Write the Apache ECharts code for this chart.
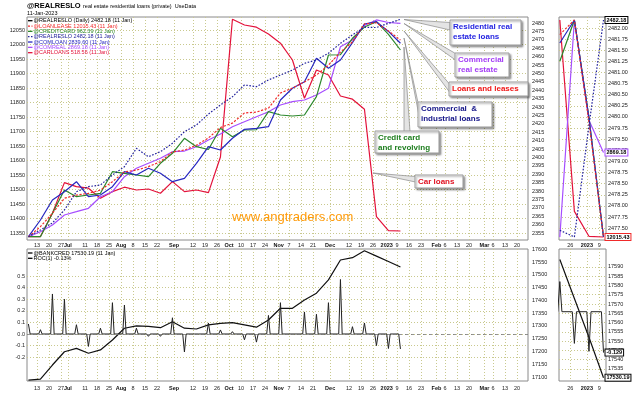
<!DOCTYPE html>
<html><head><meta charset="utf-8">
<script src="https://cdn.jsdelivr.net/npm/echarts@6/dist/echarts.min.js"></script>
<style>html,body{margin:0;padding:0;background:#fff}#c{width:640px;height:393px}</style>
</head><body><div id="c"></div>
<script>
// ---------------- data ----------------
const weekDates = ['2022-06-08','2022-06-15','2022-06-22','2022-06-29','2022-07-06','2022-07-13','2022-07-20','2022-07-27','2022-08-03','2022-08-10','2022-08-17','2022-08-24','2022-08-31','2022-09-07','2022-09-14','2022-09-21','2022-09-28','2022-10-05','2022-10-12','2022-10-19','2022-10-26','2022-11-02','2022-11-09','2022-11-16','2022-11-23','2022-11-30','2022-12-07','2022-12-14','2022-12-21','2022-12-28','2023-01-04','2023-01-11'];
const loanLease = [11337,11372,11418,11470,11481,11487,11498,11527,11561,11567,11579,11596,11630,11636,11653,11678,11714,11729,11764,11767,11781,11833,11850,11871,11895,11929,11974,12009,12071,12075,12047,12015.43];
const creditCard = [887.71,887.71,897.07,906.39,903.71,904.39,905.07,913.71,913.07,912.39,911.71,917.07,921.07,927.07,923.71,922.59,931.07,927.71,930.39,930.5,937.71,936.39,935.99,936.39,943.71,960.39,960.5,967.07,971.56,973.71,968.62,962.39];
const realResLo = [2352.8,2356.8,2361.0,2368.7,2379.6,2382.6,2383.6,2389.5,2394.5,2405.4,2400.4,2403.4,2408.4,2415.3,2419.3,2425.8,2431.2,2436.1,2443.1,2442.1,2446.1,2449.0,2452.0,2456.0,2458.0,2462.0,2467.9,2472.9,2477.45,2477.3,2479.8,2482.18];
const comLoan = [2684.88,2698.24,2714.24,2720.88,2728.88,2716.88,2718.24,2724.88,2736.88,2734.24,2739.60,2735.60,2728.88,2731.60,2743.60,2756.88,2754.24,2763.60,2770.80,2771.60,2772.88,2794.24,2803.60,2808.88,2827.60,2819.60,2826.24,2840.1,2855.05,2856.88,2849.10,2839.60];
const comReal = [2762.48,2764.98,2768.33,2773.33,2774.98,2776.68,2782.48,2784.98,2792.48,2796.68,2799.18,2801.68,2804.98,2805.3,2807.48,2810.83,2813.83,2817.48,2819.98,2822.48,2824.98,2828.33,2829.98,2830.83,2833.33,2836.68,2857.48,2860.83,2868.11,2870.86,2869.59,2869.18];
const carLoans = [518.28,518.28,519.45,520.98,520.78,520.70,520.20,520.53,520.75,520.61,520.66,520.45,521.03,520.53,520.61,520.48,522.26,529.15,528.86,528.75,528.41,527.95,527.11,525.20,526.61,526.36,525.31,525.15,524.65,519.28,518.58,518.56];
const bankCred = [17088,17092,17147,17199,17212,17193,17206,17245,17291,17300,17298,17293,17316,17291,17288,17304,17310,17313,17304,17295,17323,17369,17369,17401,17428,17480,17558,17567,17594,17573,17552,17530.19];

const rocDates = ['2022-06-08','2022-06-09','2022-06-14','2022-06-15','2022-06-16','2022-06-21','2022-06-22','2022-06-23','2022-06-28','2022-06-29','2022-06-30','2022-07-05','2022-07-06','2022-07-07','2022-07-12','2022-07-13','2022-07-14','2022-07-19','2022-07-20','2022-07-21','2022-07-26','2022-07-27','2022-07-28','2022-08-02','2022-08-03','2022-08-04','2022-08-09','2022-08-10','2022-08-11','2022-08-16','2022-08-17','2022-08-18','2022-08-23','2022-08-24','2022-08-25','2022-08-30','2022-08-31','2022-09-01','2022-09-06','2022-09-07','2022-09-08','2022-09-13','2022-09-14','2022-09-15','2022-09-20','2022-09-21','2022-09-22','2022-09-27','2022-09-28','2022-09-29','2022-10-04','2022-10-05','2022-10-06','2022-10-11','2022-10-12','2022-10-13','2022-10-18','2022-10-19','2022-10-20','2022-10-25','2022-10-26','2022-10-27','2022-11-01','2022-11-02','2022-11-03','2022-11-15','2022-11-16','2022-11-17','2022-11-22','2022-11-23','2022-11-24','2022-11-29','2022-11-30','2022-12-01','2022-12-06','2022-12-07','2022-12-08','2022-12-13','2022-12-14','2022-12-15','2022-12-20','2022-12-21','2022-12-22','2022-12-27','2022-12-28','2022-12-29','2023-01-03','2023-01-04','2023-01-05','2023-01-10','2023-01-11'];
const rocValues = [0.086,0, 0,0.037,0, 0,0.345,0, 0,0.30,0, 0,0.08,0, 0,-0.107,0, 0,0.05,0, 0,0.27,0, 0,0.25,0, 0,0.05,0, 0,-0.02,0, 0,-0.02,0, 0,0.14,0, 0,-0.155,0, 0,-0.015,0, 0,0.095,0, 0,0.035,0, 0,0.02,0, 0,-0.05,0, 0,-0.07,0, 0,0.16,0, 0,0.27,0, 0,0.19,0, 0,0.17,0, 0,0.27,0, 0,0.47,0, 0,0.063,0, 0,0.095,0, 0,-0.10,0, 0,-0.125,0, 0,-0.129];

const tickDates = ['2022-06-13','2022-06-20','2022-06-27','2022-07-01','2022-07-11','2022-07-18','2022-07-25','2022-08-01','2022-08-08','2022-08-15','2022-08-22','2022-09-01','2022-09-12','2022-09-19','2022-09-26','2022-10-03','2022-10-10','2022-10-17','2022-10-24','2022-11-01','2022-11-07','2022-11-14','2022-11-21','2022-12-01','2022-12-12','2022-12-19','2022-12-26','2023-01-03','2023-01-09','2023-01-16','2023-01-23','2023-02-01','2023-02-06','2023-02-13','2023-02-20','2023-03-01','2023-03-06','2023-03-13','2023-03-20'];
const tickLabels = ['13','20','27','Jul','11','18','25','Aug','8','15','22','Sep','12','19','26','Oct','10','17','24','Nov','7','14','21','Dec','12','19','26','2023','9','16','23','Feb','6','13','20','Mar','6','13','20'];
const zoomTickDates = ['2022-12-26','2023-01-03','2023-01-09'];
const zoomTickLabels = ['26','2023','9'];
const monthLabels = ['Jul','Aug','Sep','Oct','Nov','Dec','2023','Feb','Mar'];

const leftTicks = [11350,11400,11450,11500,11550,11600,11650,11700,11750,11800,11850,11900,11950,12000,12050];
const rightTicks = [2355,2360,2365,2370,2375,2380,2385,2390,2395,2400,2405,2410,2415,2420,2425,2430,2435,2440,2445,2450,2455,2460,2465,2470,2475,2480];
const zoomRightTicks = [2477.5,2477.75,2478,2478.25,2478.5,2478.75,2479,2479.25,2479.5,2479.75,2480,2480.25,2480.5,2480.75,2481,2481.25,2481.5,2481.75,2482];
const rocTicks = [-0.2,-0.1,0,0.1,0.2,0.3,0.4,0.5];
const bankTicks = [17100,17150,17200,17250,17300,17350,17400,17450,17500,17550,17600];
const zoomBankTicks = [17535,17540,17545,17550,17555,17560,17565,17570,17575,17580,17585,17590];

// ---------------- helpers ----------------
const F = 'Liberation Sans';
const base = Date.parse('2022-06-13T00:00:00Z');
const dayNum = s => (Date.parse(s + 'T00:00:00Z') - base) / 864e5;
const days = weekDates.map(dayNum);
const pair = arr => arr.map((v, i) => [days[i], v]);
const last4 = arr => pair(arr).slice(-4);
const rocData = rocDates.map((d, i) => [dayNum(d), rocValues[i]]);
const rocRecent = rocData.filter(p => p[0] >= dayNum('2022-12-20'));
const labelMap = {};
tickDates.forEach((d, i) => labelMap[dayNum(d)] = tickLabels[i]);
const zoomLabelMap = {};
zoomTickDates.forEach((d, i) => zoomLabelMap[dayNum(d)] = zoomTickLabels[i]);

const cLoan = '#f02a2a', cCredit = '#2b872b', cReal = '#22229c', cCom = '#2727c0', cComReal = '#a64dff', cCar = '#e3123a';
const gridLine = {show: true, lineStyle: {color: '#c9c98e', type: [1, 2], width: 1}};
const lbl = {fontFamily: F, fontSize: 5.5, color: '#222'};
const richB = {b: {fontFamily: F, fontSize: 5.5, fontWeight: 'bold', color: '#111'}};

function xAx(gi, min, max, ticks, map, margin) {
  return {type: 'value', gridIndex: gi, min, max,
    axisLine: {show: false}, axisTick: {show: true, length: 0, customValues: ticks},
    axisLabel: Object.assign({}, lbl, {margin, customValues: ticks, rich: richB,
      formatter: v => { const t = map[Math.round(v)]; if (t === undefined) return ''; return monthLabels.includes(t) ? '{b|' + t + '}' : t; }}),
    splitLine: gridLine};
}
function yAx(gi, pos, min, max, ticks, fmt, split, margin) {
  return {type: 'value', gridIndex: gi, position: pos, min, max,
    axisLine: {show: false}, axisTick: {show: true, length: 0, customValues: ticks},
    axisLabel: Object.assign({}, lbl, {margin, customValues: ticks, formatter: fmt}),
    splitLine: split ? gridLine : {show: false}};
}
const hid = (gi, min, max) => ({type: 'value', gridIndex: gi, show: false, min, max});
const padMin = v => v.min - (v.max - v.min) * 3 / 217;
const padMax = v => v.max + (v.max - v.min) * 3 / 217;

function ln(xi, yi, data, color, dash, extra) {
  return Object.assign({type: 'line', xAxisIndex: xi, yAxisIndex: yi, data, symbol: 'none', silent: true,
    animation: false, lineStyle: {color, width: 1.2, type: dash || 'solid'}}, extra || {});
}
const endLbl = (border, fmt) => ({endLabel: {show: true, formatter: fmt, fontFamily: F, fontSize: 5.5, fontWeight: 'bold',
  color: '#000', backgroundColor: '#fff', borderColor: border, borderWidth: 1, padding: [0, 1], distance: 2}});

// ---------------- graphic ----------------
const graphics = [];
const txt = (x, y, text, size, color, weight, extra) => graphics.push(Object.assign({type: 'text', z: 100, silent: true,
  style: {x, y, text, fill: color, font: (weight || 'normal') + ' ' + size + 'px "' + F + '"', verticalAlign: 'middle'}}, extra || {}));
txt(27, 6, '@REALRESLO', 7.5, '#000', 'bold');
txt(83, 6.3, 'real estate residential loans (private)  UseData', 5.5, '#000');
txt(27, 13, '11-Jan-2023', 5.5, '#000');

const legendItems = [
  {t: '@REALRESLO (Daily) 2482.18 (11 Jan)', c: '#000', d: null},
  {t: '@LOANLEASE 12015.43 (11 Jan)', c: cLoan, d: [2, 1.5]},
  {t: '@CREDITCARD 962.39 (11 Jan)', c: cCredit, d: null},
  {t: '@REALRESLO 2482.18 (11 Jan)', c: cReal, d: [1.5, 1.5]},
  {t: '@COMLOAN 2839.60 (11 Jan)', c: cCom, d: null},
  {t: '@COMREAL 2869.18 (11 Jan)', c: cComReal, d: null},
  {t: '@CARLOANS 518.56 (11 Jan)', c: cCar, d: null}
];
legendItems.forEach((it, i) => {
  const y = 20.7 + i * 5.33;
  graphics.push({type: 'line', z: 100, silent: true, shape: {x1: 28, y1: y, x2: 32.5, y2: y}, style: {stroke: it.c, lineWidth: 1.3, lineDash: it.d}});
  txt(33.5, y, it.t, 5.5, it.c);
});
[['@BANKCRED 17530.19 (11 Jan)', 253], ['ROC(1) -0.13%', 258.3]].forEach(a => {
  graphics.push({type: 'line', z: 100, silent: true, shape: {x1: 28, y1: a[1], x2: 32.5, y2: a[1]}, style: {stroke: '#000', lineWidth: 1.3}});
  txt(33.5, a[1], a[0], 5.5, '#000');
});

// watermark
graphics.push({type: 'text', z: 1, silent: true, style: {x: 232, y: 217, text: 'www.angtraders.com', fill: '#ff9b0a', font: '13px "' + F + '"', verticalAlign: 'middle'}});

// callouts
const callouts = [
  {apex: [404, 19.5], b1: [450, 22.5], b2: [450, 30], box: [450, 20, 71, 25], color: '#1f1fe0', lines: ['Residential real', 'estate loans']},
  {apex: [404, 23.5], b1: [455.5, 53.5], b2: [455.5, 60], box: [455, 53, 54, 24], color: '#a33cf5', lines: ['Commercial', 'real estate']},
  {apex: [404, 31], b1: [449.5, 84], b2: [449.5, 92], box: [449, 82, 79, 14], color: '#f01515', lines: ['Loans and leases']},
  {apex: [404, 38], b1: [418.5, 105], b2: [418.5, 113], box: [418, 102, 74, 25], color: '#141488', lines: ['Commercial  &', 'industrial loans']},
  {apex: [404, 47], b1: [404, 131.5], b2: [410, 131.5], box: [375, 131, 64, 22], color: '#1e7e1e', lines: ['Credit card', 'and revolving']},
  {apex: [373, 173], b1: [415.5, 176.5], b2: [415.5, 182], box: [415, 175, 48, 13], color: '#e01020', lines: ['Car loans']}
];
callouts.forEach(c => {
  graphics.push({type: 'polygon', z: 98, silent: true, shape: {points: [c.apex, c.b1, c.b2]},
    style: {fill: '#e4e4e4', stroke: '#8a8a8a', lineWidth: 0.7}});
  graphics.push({type: 'rect', z: 99, silent: true, shape: {x: c.box[0], y: c.box[1], width: c.box[2], height: c.box[3]},
    style: {fill: '#fff', stroke: '#9a9a9a', lineWidth: 1, shadowBlur: 2, shadowOffsetX: 1.5, shadowOffsetY: 1.5, shadowColor: 'rgba(0,0,0,0.35)'}});
  c.lines.forEach((l, k) => txt(c.box[0] + 3, c.box[1] + 7 + k * 10, l, 8, c.color, 'bold'));
});

// ---------------- option ----------------
const option = {
  backgroundColor: '#fff',
  animation: false,
  grid: [
    {left: 27, top: 17, width: 501, height: 223, show: true, borderColor: '#8a8a8a', borderWidth: 1, backgroundColor: 'transparent'},
    {left: 559, top: 17, width: 47, height: 223, show: true, borderColor: '#8a8a8a', borderWidth: 1, backgroundColor: 'transparent'},
    {left: 27, top: 249, width: 501, height: 132, show: true, borderColor: '#8a8a8a', borderWidth: 1, backgroundColor: 'transparent'},
    {left: 559, top: 249, width: 47, height: 132, show: true, borderColor: '#8a8a8a', borderWidth: 1, backgroundColor: 'transparent'}
  ],
  xAxis: [
    xAx(0, -5.83, 286.4, tickDates.map(dayNum), labelMap, 2),
    xAx(1, 190.6, 213.2, zoomTickDates.map(dayNum), zoomLabelMap, 2),
    xAx(2, -5.83, 286.4, tickDates.map(dayNum), labelMap, 4.5),
    xAx(3, 190.6, 213.2, zoomTickDates.map(dayNum), zoomLabelMap, 4.5)
  ],
  yAxis: [
    yAx(0, 'left', 11326, 12095, leftTicks, v => String(v), true, 2),          // 0 loanLease
    yAx(0, 'right', 2350.84, 2483.57, rightTicks, v => String(v), false, 4),    // 1 realResLo
    hid(0, 886.39, 975.59),                                                      // 2 creditCard
    hid(0, 2682.24, 2860.64),                                                    // 3 comLoan
    hid(0, 2760.83, 2872.33),                                                    // 4 comReal
    hid(0, 518.11, 529.26),                                                      // 5 carLoans
    yAx(1, 'right', padMin, padMax, zoomRightTicks, v => v.toFixed(2), true, 2), // 6 realResLo zoom
    hid(1, padMin, padMax), hid(1, padMin, padMax), hid(1, padMin, padMax), hid(1, padMin, padMax), hid(1, padMin, padMax), // 7-11
    yAx(2, 'left', -0.4052, 0.7328, rocTicks, v => v.toFixed(1), true, 2),      // 12 roc
    yAx(2, 'right', 17084.5, 17600.9, bankTicks, v => String(v), false, 4),      // 13 bankCred
    yAx(3, 'right', 17528.4, 17599.7, zoomBankTicks, v => String(v), true, 2),   // 14 bankCred zoom
    hid(3, -0.2186, 0.1978)                                                      // 15 roc zoom
  ],
  graphic: graphics,
  series: [
    ln(0, 5, pair(carLoans), cCar),
    ln(0, 4, pair(comReal), cComReal),
    ln(0, 2, pair(creditCard), cCredit),
    ln(0, 3, pair(comLoan), cCom),
    ln(0, 0, pair(loanLease), cLoan, [2.2, 1.6]),
    ln(0, 1, pair(realResLo), cReal, [1.6, 1.6]),

    ln(1, 11, last4(carLoans), cCar),
    ln(1, 10, last4(comReal), cComReal, null, endLbl(cComReal, p => p.value[1].toFixed(2))),
    ln(1, 8, last4(creditCard), cCredit),
    ln(1, 9, last4(comLoan), cCom),
    ln(1, 7, last4(loanLease), cLoan, [2.2, 1.6], endLbl(cLoan, p => p.value[1].toFixed(2))),
    ln(1, 6, last4(realResLo), cReal, [1.6, 1.6], endLbl('#000', p => p.value[1].toFixed(2))),

    ln(2, 13, pair(bankCred), '#111'),
    ln(2, 12, rocData, '#222', null, {lineStyle: {color: '#222', width: 1}, markLine: {silent: true, symbol: 'none', label: {show: false},
      lineStyle: {color: '#777', type: [3, 3], width: 0.8}, data: [{yAxis: 0}]}}),

    ln(3, 14, last4(bankCred), '#111', null, endLbl('#000', p => p.value[1].toFixed(2))),
    ln(3, 15, rocRecent, '#222', null, Object.assign({lineStyle: {color: '#222', width: 1}}, endLbl('#000', p => p.value[1].toFixed(3))))
  ]
};
const chart = echarts.init(document.getElementById('c'), null, {renderer: 'canvas', width: 640, height: 393});
chart.setOption(option);
</script>
</body></html>
